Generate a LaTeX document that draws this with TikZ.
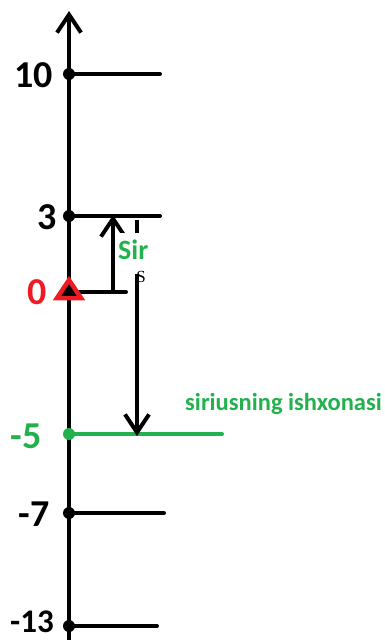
\documentclass[tikz,border=0pt]{standalone}
\usepackage{fontspec}
\setmainfont{Carlito}
\usetikzlibrary{arrows.meta}
\definecolor{pgreen}{RGB}{34,177,76}
\definecolor{pred}{RGB}{237,28,36}
\tikzset{
  axisline/.style={line width=4pt, black},
  tick/.style={line width=4pt, black, line cap=round},
  dot/.style={circle, fill=black, inner sep=0pt, minimum size=12pt},
  lbl/.style={font=\bfseries\fontsize{38}{38}\selectfont, anchor=east, inner sep=0pt},
  barb/.style={-{Straight Barb[length=18pt,width=24pt,line width=4pt]}},
}
\begin{document}
\begin{tikzpicture}[x=1pt,y=-1pt]
\useasboundingbox (0,0) rectangle (385,640);
% axis
\coordinate (bot) at (69,645);
\coordinate (top) at (69,11);
\draw[axisline, barb] (bot) -- (top);
% ticks
\coordinate (p10) at (69,74);   \coordinate (e10) at (160,74);
\coordinate (p3) at (69,216);   \coordinate (e3) at (160,216);
\coordinate (p0) at (69,292);   \coordinate (e0) at (126,292);
\coordinate (p5) at (69,434);   \coordinate (e5) at (222,434);
\coordinate (p7) at (69,513);   \coordinate (e7) at (164,513);
\coordinate (p13) at (69,626);  \coordinate (e13) at (157,626);
\draw[tick] (p10) -- (e10);
\draw[tick] (p3) -- (e3);
\draw[tick] (p0) -- (e0);
\draw[tick, pgreen] (p5) -- (e5);
\draw[tick] (p7) -- (e7);
\draw[tick] (p13) -- (e13);
\node[dot] (d10) at (p10) {};
\node[dot] (d3) at (p3) {};
\node[dot, fill=pgreen] (d5) at (p5) {};
\node[dot] (d7) at (p7) {};
\node[dot] (d13) at (p13) {};
% triangle at 0
\draw[pred, line width=4.5pt, fill=black, line join=miter] (57,298) -- (69,280) -- (81,298) -- cycle;
\coordinate (tri) at (69,292);
% labels
\node[lbl] (l10) at (53,75) {10};
\node[lbl] (l3) at (57,217) {3};
\node[lbl, text=pred] (l0) at (47,292) {0};
\node[lbl, text=pgreen] (l5) at (42,436) {-5};
\node[lbl] (l7) at (50,514) {-7};
\node[lbl, font=\bfseries\fontsize{33}{33}\selectfont] (l13) at (54,622) {-13};
% arrows
\coordinate (a1s) at (113,292); \coordinate (a1e) at (113,215);
\draw[axisline, barb] (a1s) -- (a1e);
\coordinate (a2s) at (137,220); \coordinate (a2e) at (137,436);
\draw[axisline, barb] (a2s) -- (a2e);
% white box over the arrow
\fill[white] (117,233) rectangle (153,274);
\node[font=\bfseries\fontsize{28}{28}\selectfont, text=pgreen, anchor=west, inner sep=0pt] (sir) at (118,250) {Sir};
\node[font=\fontsize{17}{17}\selectfont, anchor=center, inner sep=0pt] (s) at (141,277) {\fontspec{Liberation Serif}S};
\node[font=\bfseries\fontsize{24.5}{24.5}\selectfont, text=pgreen, anchor=west, inner sep=0pt] (work) at (185,404) {siriusning ishxonasi};
\end{tikzpicture}
\end{document}
